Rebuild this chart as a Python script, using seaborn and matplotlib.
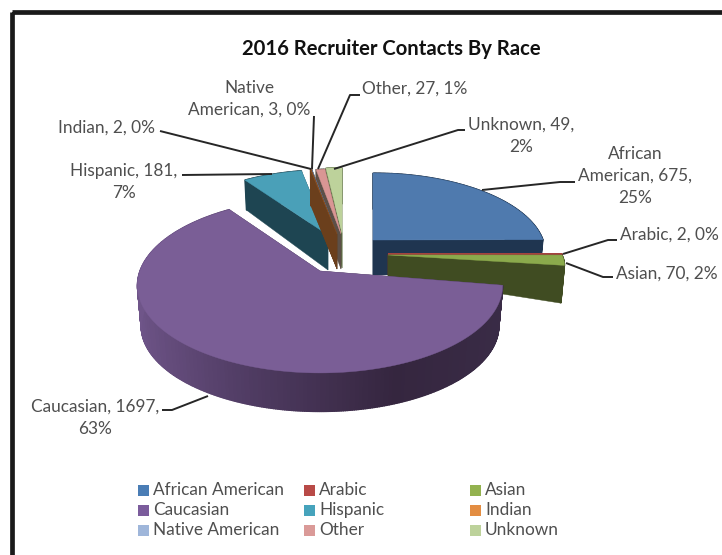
import numpy as np
import matplotlib
matplotlib.use("Agg")
import matplotlib.pyplot as plt
from matplotlib.patches import Rectangle
import seaborn as sns

# data
races = ["African American", "Arabic", "Asian", "Caucasian", "Hispanic",
         "Indian", "Native American", "Other", "Unknown"]
contacts = [675, 2, 70, 1697, 181, 2, 3, 27, 49]
percents = [25, 0, 2, 63, 7, 0, 0, 1, 2]
title = "2016 Recruiter Contacts By Race"

top_colors = ["#4F7AAE", "#A5423F", "#8BAA4C", "#7A5E96", "#4AA0B8",
              "#8A4F22", "#5F78A0", "#D99694", "#BDD29B"]
wall_colors = ["#1F3550", "#6B2A28", "#404C22", "#3A2C47", "#1E4552",
               "#6B3F1C", "#5A4A3A", "#5C5048", "#5F7045"]
legend_colors = ["#4A7DB5", "#B84A47", "#93B24F", "#7B5C9C", "#46A3BC",
                 "#E38D42", "#9FB6DA", "#DA9A98", "#BDD29B"]

# apex x, apex y, rx, ry, wall depth at apex, wall depth at rim
slice_geometry = {
    "African American": (373, 240, 170, 78, 35, 35),
    "Arabic": (388, 254, 174, 65, 21, 37),
    "Asian": (388, 255, 174, 62, 21, 38),
    "Caucasian": (320, 271, 180, 85, 40, 41),
    "Hispanic": (328, 235, 165, 76, 35, 29),
    "Indian": (337, 234, 165, 76, 35, 35),
    "Native American": (337, 234, 165, 76, 35, 35),
    "Other": (341, 234, 165, 76, 35, 35),
    "Unknown": (342, 233, 165, 76, 35, 35),
}
draw_order = ["Hispanic", "Unknown", "Other", "Native American", "Indian",
              "African American", "Arabic", "Asian", "Caucasian"]

# text x, text y, horizontal alignment
label_layout = {
    "African American": ("African\nAmerican, 675,\n25%", 635, 176, "center"),
    "Arabic": ("Arabic, 2, 0%", 620, 235, "left"),
    "Asian": ("Asian, 70, 2%", 616, 274, "left"),
    "Caucasian": ("Caucasian, 1697,\n63%", 95, 418, "center"),
    "Hispanic": ("Hispanic, 181,\n7%", 124, 182, "center"),
    "Indian": ("Indian, 2, 0%", 58, 128, "left"),
    "Native American": ("Native\nAmerican, 3, 0%", 249, 99, "center"),
    "Other": ("Other, 27, 1%", 362, 89, "left"),
    "Unknown": ("Unknown, 49,\n2%", 521, 136, "center"),
}
leaders = {
    "African American": [(575, 182), (560, 182), (482, 190)],
    "Arabic": [(617, 240), (608, 240), (563, 254)],
    "Asian": [(613, 277), (603, 277), (566, 263)],
    "Caucasian": [(162, 410), (172, 410), (208, 396)],
    "Hispanic": [(182, 175), (272, 174)],
    "Indian": [(160, 131), (311, 169)],
    "Native American": [(314, 116), (312, 169)],
    "Other": [(360, 95), (350, 95), (318, 169)],
    "Unknown": [(465, 130), (458, 130), (334, 169)],
}

PERSPECTIVE = 0.166
TEXT_GREY = "#4F4F4F"


def rim_point(angle, geom, radius=1.0):
    # angle in degrees, clockwise from 12 o'clock
    ax0, ay0, rx, ry = geom[:4]
    u = np.sin(np.radians(angle)) * radius
    v = np.cos(np.radians(angle)) * radius
    d = 1 + PERSPECTIVE * v
    return ax0 + rx * u / d, ay0 - ry * v / d


def wall_point(angle, geom):
    x, y = rim_point(angle, geom, radius=0.98)
    return x, y + geom[5]


def draw_slice(ax, race, start, end, top, wall):
    geom = slice_geometry[race]
    angles = np.linspace(start, end, max(int((end - start) * 2), 3))
    apex = (geom[0], geom[1])
    apex_low = (geom[0], geom[1] + geom[4])

    # the two cut faces
    for a in (start, end):
        pts = [apex, rim_point(a, geom), wall_point(a, geom), apex_low]
        ax.fill(*zip(*pts), color=wall, lw=0.3)

    # outer wall, in strips so the big slice can carry its shading
    if race == "Caucasian":
        shade = sns.blend_palette(["#6F5589", "#4F3B62", "#35263F", "#3A2C47"], 101)
    else:
        shade = [wall] * 101
    for a0, a1 in zip(angles[:-1], angles[1:]):
        pts = [rim_point(a0, geom), rim_point(a1, geom),
               wall_point(a1, geom), wall_point(a0, geom)]
        idx = int((np.sin(np.radians((a0 + a1) / 2)) + 1) * 50)
        ax.fill(*zip(*pts), color=shade[idx], lw=1.0)

    # top face
    pts = [apex] + [rim_point(a, geom) for a in angles]
    ax.fill(*zip(*pts), color=top, lw=0.8 if race == "Arabic" else 0.3)


sns.set_theme(style="white")
plt.rcParams["font.family"] = ["Lato", "DejaVu Sans"]

fig = plt.figure(figsize=(7.22, 5.55), dpi=100)
ax = fig.add_axes([0, 0, 1, 1])
ax.set_xlim(0, 722)
ax.set_ylim(555, 0)
ax.axis("off")

# frame, runs off the right and bottom of the picture
ax.add_patch(Rectangle((12, 12), 730, 560, fill=False, ec="#1A1A1A", lw=3.4))

edges = np.cumsum([0] + contacts) / sum(contacts) * 360
colors = dict(zip(races, zip(top_colors, wall_colors)))
spans = {r: (edges[i], edges[i + 1]) for i, r in enumerate(races)}
for race in draw_order:
    draw_slice(ax, race, spans[race][0], spans[race][1], *colors[race])

for race in races:
    xs, ys = zip(*leaders[race])
    ax.plot(xs, ys, color="#262626", lw=1.4, solid_capstyle="butt")
    text, tx, ty, ha = label_layout[race]
    ax.text(tx, ty, text, ha=ha, va="center", color=TEXT_GREY, fontsize=12.4,
            linespacing=1.48)

ax.text(391, 49, title, ha="center", va="center", color="#111111",
        fontsize=14.6, fontweight="bold")

# legend laid out on the chart's own three even columns
legend_x = [138, 304, 470]
legend_y = [490, 510, 530]
for i, race in enumerate(races):
    x = legend_x[i % 3]
    y = legend_y[i // 3]
    ax.add_patch(Rectangle((x, y - 5.5), 11, 11, color=legend_colors[i], lw=0))
    ax.text(x + 15, y, race, ha="left", va="center", color=TEXT_GREY, fontsize=12.4)

fig.savefig("out.png", dpi=100)
